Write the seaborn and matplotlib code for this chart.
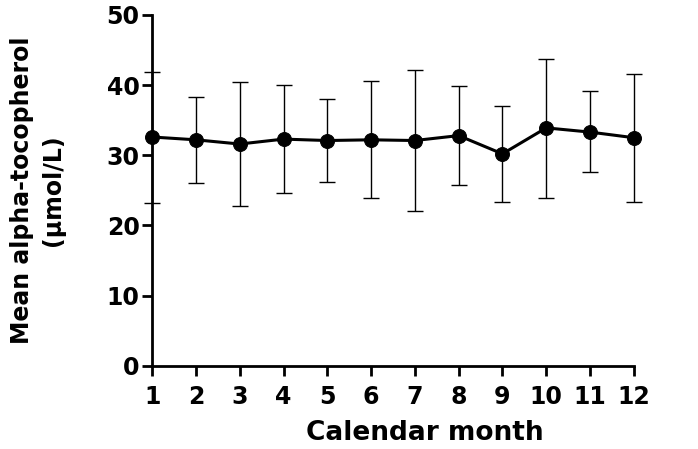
import numpy as np
import pandas as pd
import matplotlib
matplotlib.use("Agg")
import matplotlib.pyplot as plt
import seaborn as sns

months = [1, 2, 3, 4, 5, 6, 7, 8, 9, 10, 11, 12]
mean_atoc = [32.6, 32.2, 31.6, 32.3, 32.1, 32.2, 32.1, 32.8, 30.2, 33.9, 33.3, 32.5]
upper = [41.9, 38.3, 40.5, 40.0, 38.0, 40.6, 42.2, 39.9, 37.0, 43.7, 39.2, 41.6]
lower = [23.2, 26.1, 22.8, 24.6, 26.2, 23.9, 22.1, 25.8, 23.4, 23.9, 27.6, 23.4]

df = pd.DataFrame({"month": months, "mean": mean_atoc, "upper": upper, "lower": lower})

sns.set_style("ticks")
plt.rcParams['font.family'] = ['DejaVu Sans']
plt.rcParams['font.weight'] = 'bold'
plt.rcParams['text.color'] = 'black'
plt.rcParams['axes.labelcolor'] = 'black'

fig = plt.figure(figsize=(6.98, 4.49), dpi=100)
ax = fig.add_axes([0.218, 0.185, 0.690, 0.782])

yerr = np.array([df["mean"] - df["lower"], df["upper"] - df["mean"]])
ax.errorbar(df["month"], df["mean"], yerr=yerr, fmt='none', ecolor='black',
            elinewidth=1.0, capsize=6, capthick=1.0, clip_on=False, zorder=2)
sns.lineplot(data=df, x="month", y="mean", color='black', linewidth=2.2,
             marker='o', markersize=10, markeredgecolor='black', ax=ax,
             clip_on=False, zorder=3)

ax.set_xlim(1, 12)
ax.set_ylim(0, 50)
ax.set_xticks(months)
ax.set_yticks([0, 10, 20, 30, 40, 50])
sns.despine(ax=ax)
for s in ['left', 'bottom']:
    ax.spines[s].set_linewidth(2.0)
    ax.spines[s].set_color('black')
ax.tick_params(axis='y', width=2.0, length=7, labelsize=17, direction='out',
               colors='black', pad=2)
ax.tick_params(axis='x', width=2.0, length=7, labelsize=17, direction='out',
               colors='black', pad=7)
for lab in ax.get_xticklabels() + ax.get_yticklabels():
    lab.set_fontweight('bold')

ax.set_xlabel("Calendar month", fontsize=19, fontweight='bold')
ax.xaxis.set_label_coords(0.566, -0.155)
ax.set_ylabel("Mean alpha-tocopherol\n(µmol/L)", fontsize=17, fontweight='bold',
              labelpad=30, linespacing=1.35)

fig.savefig("out.png", dpi=100)
